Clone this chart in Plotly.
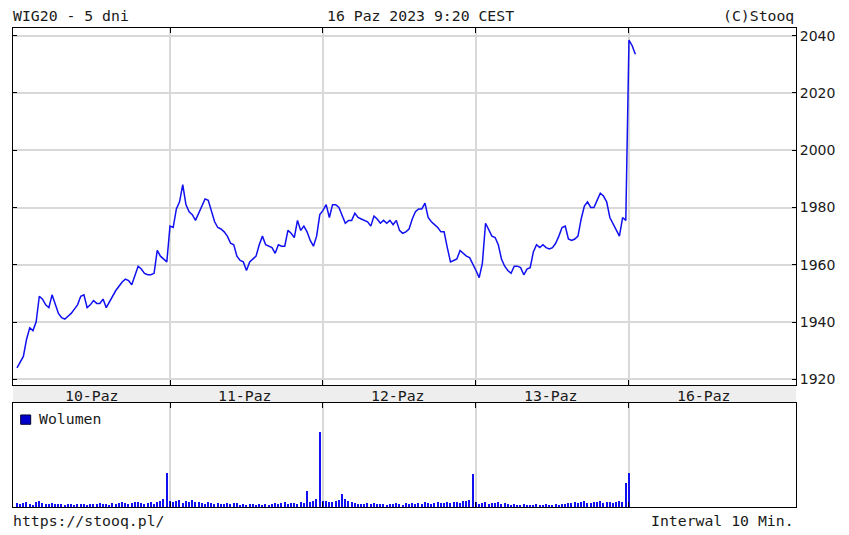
import plotly.graph_objects as go

# ---------------- data ----------------
day_labels = ["10-Paz", "11-Paz", "12-Paz", "13-Paz", "16-Paz"]
slots_per_day = 48  # 10-minute intervals, 9:00 - 16:50

price_d0 = [1924, 1926, 1928, 1934, 1938, 1937, 1940, 1949, 1948, 1946,
            1945, 1949.5, 1946, 1943, 1941.5, 1941, 1942, 1943, 1944.5, 1946,
            1949, 1949.5, 1945, 1946, 1947.5, 1946.5, 1946.5, 1948, 1945, 1947,
            1949.5, 1951, 1952.5, 1954, 1955, 1954.5, 1953, 1956, 1959.5, 1958.5,
            1957, 1956.5, 1956.5, 1957, 1965, 1963, 1962, 1961]
price_d1 = [1973.5, 1973, 1979.5, 1982, 1988, 1981, 1978.5, 1977.5, 1975.5, 1978,
            1981, 1983, 1982.5, 1979, 1975, 1973, 1972.5, 1971.5, 1970, 1967.5,
            1967, 1963, 1961.5, 1961, 1958, 1961, 1962, 1963, 1967, 1970,
            1967, 1966.5, 1966, 1964, 1967, 1966.5, 1966.5, 1972, 1971, 1969.5,
            1975.5, 1972, 1973.5, 1971.5, 1968.5, 1966.5, 1970, 1977.5]
price_d2 = [1979, 1981, 1976.5, 1981, 1981, 1980, 1977, 1974.5, 1975.5, 1975.5,
            1978, 1976.5, 1976, 1975.5, 1975, 1973.5, 1977, 1976, 1974.5, 1975.5,
            1974.5, 1975.5, 1974, 1975.5, 1972, 1971, 1971.5, 1972.5, 1976, 1978.5,
            1979.5, 1979.5, 1981.5, 1976.5, 1975, 1974, 1973, 1971.5, 1971.5, 1966,
            1961, 1961.5, 1962, 1965, 1964, 1963, 1962.5, 1960.5]
price_d3 = [1958, 1955.5, 1960.5, 1974.5, 1972, 1970, 1969.5, 1967, 1962, 1959.5,
            1958, 1957, 1959.5, 1959.5, 1959, 1956.5, 1958.5, 1959, 1964.5, 1967,
            1966, 1967, 1966, 1965.5, 1966, 1967.5, 1970, 1973, 1973.5, 1969,
            1968.5, 1969, 1970, 1976, 1980.5, 1982, 1980, 1980, 1982.5, 1985,
            1984, 1982, 1976.5, 1974.5, 1972, 1970, 1976.5, 1975.5]
price_d4 = [2038.5, 2036.5, 2033.5]

vol_d0 = [4, 3, 4, 5, 3, 2, 5, 6, 4, 3, 3, 4, 3, 3, 3, 2, 3, 3, 2, 3,
          3, 3, 2, 3, 3, 3, 4, 3, 3, 2, 4, 3, 4, 5, 4, 3, 4, 5, 5, 4,
          3, 4, 5, 3, 5, 6, 8, 34]
vol_d1 = [6, 5, 6, 7, 4, 6, 5, 7, 5, 5, 4, 3, 5, 4, 3, 4, 3, 3, 4, 3,
          4, 4, 2, 3, 2, 3, 3, 2, 3, 2, 3, 2, 3, 4, 3, 4, 5, 3, 4, 4,
          3, 5, 4, 16, 5, 6, 8, 75]
vol_d2 = [6, 6, 5, 5, 6, 7, 13, 8, 6, 5, 4, 3, 3, 3, 4, 3, 4, 3, 3, 3,
          2, 3, 3, 4, 3, 2, 4, 3, 4, 3, 4, 3, 5, 4, 3, 4, 5, 4, 4, 5,
          4, 5, 5, 4, 6, 6, 7, 33]
vol_d3 = [5, 3, 4, 5, 3, 4, 4, 5, 3, 4, 3, 2, 3, 2, 2, 3, 2, 2, 2, 3,
          2, 2, 3, 2, 2, 3, 2, 3, 3, 4, 4, 5, 4, 5, 6, 4, 4, 5, 5, 6,
          4, 5, 5, 4, 5, 6, 5, 24]
vol_d4 = [34, 0, 0]

price_days = [price_d0, price_d1, price_d2, price_d3, price_d4]
vol_days = [vol_d0, vol_d1, vol_d2, vol_d3, vol_d4]

y_ticks = [1920, 1940, 1960, 1980, 2000, 2020, 2040]

# ---------------- build series ----------------
x_idx, price, vol, hover = [], [], [], []
for d, (pd_, vd_) in enumerate(zip(price_days, vol_days)):
    for s, (p, v) in enumerate(zip(pd_, vd_)):
        x_idx.append(d * slots_per_day + s)
        price.append(p)
        vol.append(v)
        mins = 9 * 60 + 10 * s
        hover.append(f"{day_labels[d]} {mins // 60}:{mins % 60:02d}")

day_bounds = [slots_per_day * k for k in range(1, len(day_labels))]
day_centers = [slots_per_day * k + slots_per_day / 2 - 0.5 for k in range(len(day_labels))]

# ---------------- styling ----------------
BLUE = "#1010f0"
GRID = "#d9d9d9"
MONO = "DejaVu Sans Mono"
TXT = "#1a1a1a"

fig = go.Figure()
fig.add_trace(go.Scatter(x=x_idx, y=price, mode="lines", text=hover,
                         line=dict(color=BLUE, width=1.5), xaxis="x", yaxis="y",
                         hovertemplate="%{text}<br>%{y}<extra></extra>"))
fig.add_trace(go.Bar(x=x_idx, y=vol, width=0.4, marker=dict(color=BLUE, line=dict(width=0)),
                     xaxis="x2", yaxis="y2", text=hover,
                     hovertemplate="%{text}<br>%{y}<extra></extra>", textposition="none"))

x_range = [-1.255, 244.4]
axis_common = dict(showline=True, linecolor="#000", linewidth=1, mirror="ticks",
                   ticks="inside", ticklen=5, tickcolor="#000", zeroline=False)

fig.update_layout(
    width=849, height=535,
    margin=dict(l=13, r=53, t=28, b=28),
    paper_bgcolor="white", plot_bgcolor="white",
    showlegend=False, bargap=0,
    xaxis=dict(domain=[0, 1], anchor="y", range=x_range, tickvals=day_bounds,
               showticklabels=False, showgrid=True, gridcolor=GRID, gridwidth=1.5,
               **axis_common),
    yaxis=dict(domain=[0.2547, 1], anchor="x", side="right", range=[1918.0, 2042.7],
               tickvals=y_ticks, showgrid=True, gridcolor=GRID, gridwidth=1.5,
               tickfont=dict(family="DejaVu Sans", size=14, color=TXT),
               **{k: v for k, v in axis_common.items() if k != "ticklen"}, ticklen=4),
    xaxis2=dict(domain=[0, 1], anchor="y2", matches="x", range=x_range, tickvals=day_bounds,
                showticklabels=False, showgrid=True, gridcolor=GRID, gridwidth=1.5,
                **axis_common),
    yaxis2=dict(domain=[0, 0.2171], anchor="x2", range=[0, 104], showticklabels=False,
                showgrid=False, showline=True, linecolor="#000", linewidth=1, mirror=True,
                ticks="", zeroline=False),
)

# date band
fig.add_shape(type="rect", xref="paper", yref="paper", x0=0, x1=1, y0=0.2171, y1=0.2547,
              fillcolor="#eeeeee", line=dict(width=0), layer="below")

for lab, c in zip(day_labels, day_centers):
    fig.add_annotation(x=c, xref="x", y=0.2332, yref="paper", text=lab, showarrow=False,
                       font=dict(family=MONO, size=14.8, color=TXT), xanchor="center", yanchor="middle")

# legend swatch and label
fig.add_shape(type="rect", xref="paper", yref="paper", x0=0.0098, x1=0.0226, y0=0.1727, y1=0.1921,
              fillcolor="#0000cc", line=dict(color="#000033", width=1))
fig.add_annotation(x=0.0303, xref="paper", y=0.1841, yref="paper", text="Wolumen", showarrow=False,
                   font=dict(family=MONO, size=14.8, color=TXT), xanchor="left", yanchor="middle")

# header / footer texts
hdr = dict(showarrow=False, xref="paper", yref="paper", yanchor="middle",
           font=dict(family=MONO, size=14.8, color=TXT))
fig.add_annotation(x=0, y=1.0257, text="WIG20 - 5 dni", xanchor="left", xshift=-2, **hdr)
fig.add_annotation(x=0.3985, y=1.0257, text="16 Paz 2023 9:20 CEST", xanchor="left", **hdr)
fig.add_annotation(x=1, y=1.0257, text="(C)Stooq", xanchor="right", **hdr)
fig.add_annotation(x=0, y=-0.0282, text="https://stooq.pl/", xanchor="left", xshift=-2, **hdr)
fig.add_annotation(x=1, y=-0.0282, text="Interwal 10 Min.", xanchor="right", **hdr)

fig.write_html("out.html", config={"displayModeBar": False},
               post_script="document.body.style.margin='0';document.body.style.overflow='hidden';")
